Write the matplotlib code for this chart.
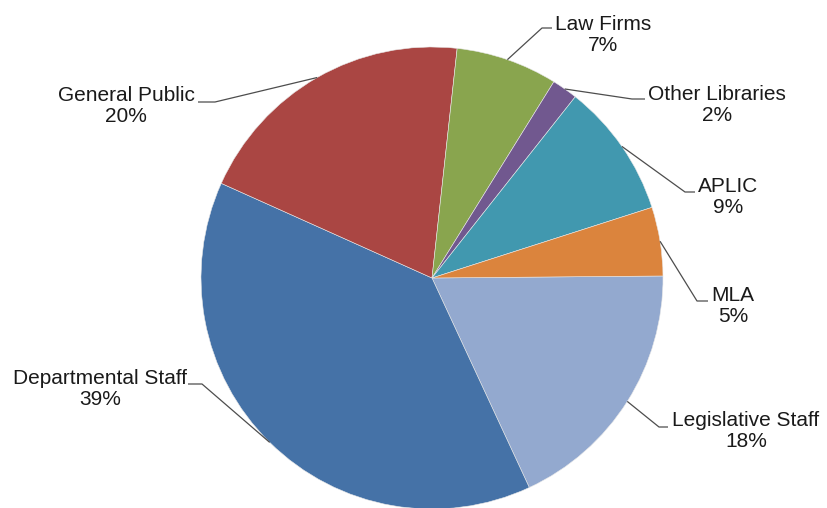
import matplotlib.pyplot as plt
import numpy as np

# share of requests by source (percent)
sources = ["Legislative Staff", "Departmental Staff", "General Public",
           "Law Firms", "Other Libraries", "APLIC", "MLA"]
shares = [18.2, 38.6, 20.0, 7.1, 1.8, 9.4, 4.8]
colours = ["#93A9CF", "#4572A7", "#AA4643", "#89A54E",
           "#71588F", "#4198AF", "#DB843D"]

# label layout in pixels: text centre, end of the short horizontal tick
label_xy = [(746, 431), (100, 389), (126, 106), (603, 35),
            (717, 105), (728, 197), (733, 306)]
elbow = [(659, 427), (202, 384), (215, 102), (542, 28),
         (632, 99), (685, 192), (697, 301)]
tick_len = [9, -14, -17, 10, 13, 10, 11]

W, H = 827, 508
CX, CY, R = 432, 278, 231

plt.rcParams["font.family"] = ["Liberation Sans", "DejaVu Sans"]
fig = plt.figure(figsize=(W / 100, H / 100), dpi=100)
ax = fig.add_axes([0, 0, 1, 1])

wedges, _ = ax.pie(shares, colors=colours, startangle=0.5, counterclock=False,
                   center=(CX, H - CY), radius=R, normalize=True,
                   wedgeprops=dict(linewidth=0.4, edgecolor="#e8e8e8"))

# pie() resets the limits, so set the pixel frame afterwards
ax.set_xlim(0, W)
ax.set_ylim(0, H)
ax.set_aspect("equal")
ax.axis("off")

for w, name, pct, (tx, ty), (ex, ey), tl in zip(
        wedges, sources, shares, label_xy, elbow, tick_len):
    mid = np.deg2rad((w.theta1 + w.theta2) / 2)
    px = CX + R * np.cos(mid)
    py = (H - CY) + R * np.sin(mid)
    ax.plot([px, ex, ex + tl], [py, H - ey, H - ey],
            color="#4d4d4d", lw=0.9, solid_capstyle="butt")
    ax.text(tx, H - ty, f"{name}\n{round(pct):d}%", ha="center", va="center",
            fontsize=15, color="#1a1a1a", linespacing=1.1)

fig.savefig("out.png", dpi=100)
